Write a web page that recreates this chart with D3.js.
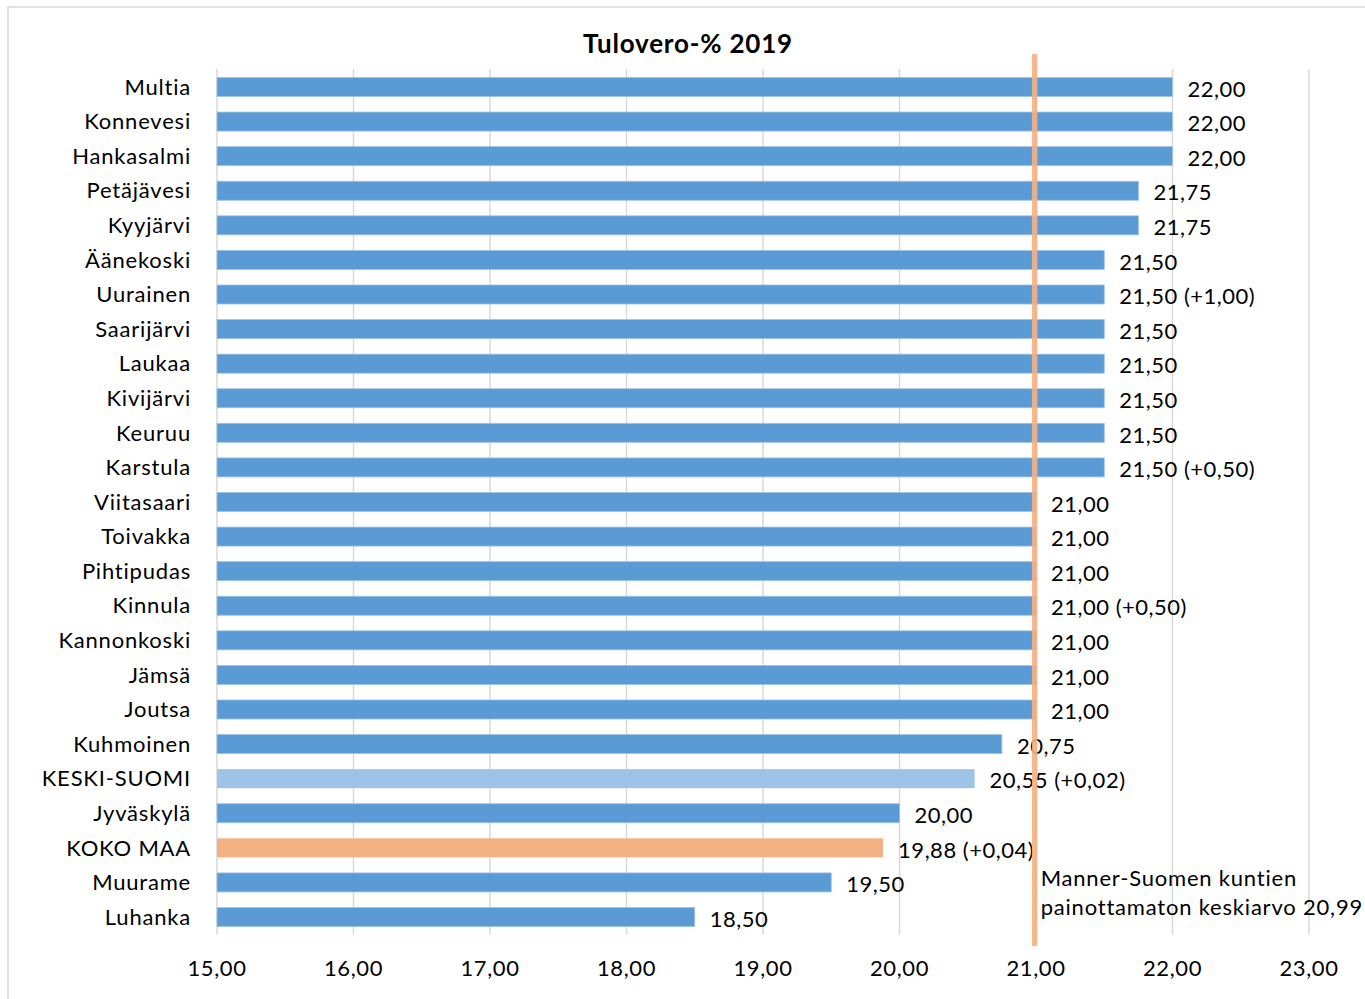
<!DOCTYPE html>
<html><head><meta charset="utf-8">
<script src="https://cdn.jsdelivr.net/npm/d3@7"></script>
<style>body{margin:0;background:#fff;}svg{display:block;}</style>
</head><body>
<svg id="c" width="1365" height="999"></svg>
<script>
const categories = ["Multia","Konnevesi","Hankasalmi","Petäjävesi","Kyyjärvi","Äänekoski","Uurainen","Saarijärvi","Laukaa","Kivijärvi","Keuruu","Karstula","Viitasaari","Toivakka","Pihtipudas","Kinnula","Kannonkoski","Jämsä","Joutsa","Kuhmoinen","KESKI-SUOMI","Jyväskylä","KOKO MAA","Muurame","Luhanka"];
const values = [22.00,22.00,22.00,21.75,21.75,21.50,21.50,21.50,21.50,21.50,21.50,21.50,21.00,21.00,21.00,21.00,21.00,21.00,21.00,20.75,20.55,20.00,19.88,19.50,18.50];
const changes = ["","","","","","","+1,00","","","","","+0,50","","","","+0,50","","","","","+0,02","","+0,04","",""];
const highlight = {"KESKI-SUOMI":"#9DC3E6","KOKO MAA":"#F4B183"};
const xTicks = [15,16,17,18,19,20,21,22,23];
const meanValue = 20.99;
const meanLabel = ["Manner-Suomen kuntien","painottamaton keskiarvo 20,99"];
const title = "Tulovero-% 2019";

const fmt = v => v.toFixed(2).replace(".", ",");
const FONT = "Lato, 'Open Sans', sans-serif";
const svg = d3.select("#c");
svg.append("rect").attr("x",8).attr("y",7).attr("width",1400).attr("height",1010)
  .attr("fill","#fff").attr("stroke","#d9d9d9").attr("stroke-width",1.5);

const x = d3.scaleLinear().domain([15,23]).range([217,1309]);
const y = d3.scaleBand().domain(categories).range([69.7,934.3]).paddingInner(0.45).paddingOuter(0.225);

// gridlines
svg.append("g").selectAll("line").data(xTicks).join("line")
  .attr("x1",d=>x(d)).attr("x2",d=>x(d)).attr("y1",69).attr("y2",934.5)
  .attr("stroke","#d9d9d9").attr("stroke-width",1.5);

// bars
svg.append("g").selectAll("rect").data(categories).join("rect")
  .attr("x",x(15)).attr("y",d=>y(d)).attr("height",y.bandwidth())
  .attr("width",(d,i)=>x(values[i])-x(15))
  .attr("fill",d=>highlight[d]||"#5B9BD5")
  .attr("stroke",d=>highlight[d]?"none":"#9DC3E6").attr("stroke-width",0.8);

const txt = sel => sel.attr("font-family",FONT).attr("font-size",22).attr("fill","#000");

// category labels
svg.append("g").selectAll("text").data(categories).join("text")
  .attr("x",191).attr("y",d=>y(d)+y.bandwidth()/2).attr("dy","0.35em")
  .attr("text-anchor","end").call(txt).attr("letter-spacing",0.8)
  .text(d=>d);

// value labels
svg.append("g").selectAll("text").data(categories).join("text")
  .attr("x",(d,i)=>x(values[i])+15).attr("y",d=>y(d)+y.bandwidth()/2+2).attr("dy","0.35em")
  .call(txt).attr("letter-spacing",0.5)
  .text((d,i)=>fmt(values[i]) + (changes[i] ? " ("+changes[i]+")" : ""));

// x axis labels
svg.append("g").selectAll("text").data(xTicks).join("text")
  .attr("x",d=>x(d)).attr("y",968).attr("dy","0.35em").attr("text-anchor","middle")
  .call(txt).attr("letter-spacing",0.6)
  .text(d=>fmt(d));

// mean line
svg.append("line").attr("x1",x(meanValue)).attr("x2",x(meanValue)).attr("y1",54).attr("y2",946)
  .attr("stroke","#F4B183").attr("stroke-width",5.5).attr("stroke-opacity",0.9);

svg.append("g").selectAll("text").data(meanLabel).join("text")
  .attr("x",x(meanValue)+6).attr("y",(d,i)=>878+i*29).attr("dy","0.35em")
  .call(txt).attr("letter-spacing",0.8)
  .text(d=>d);

// title
svg.append("text").attr("x",688).attr("y",44).attr("dy","0.35em").attr("text-anchor","middle")
  .attr("font-family",FONT).attr("font-weight","bold").attr("font-size",26).attr("letter-spacing",0.8).attr("fill","#000")
  .text(title);
</script>
</body></html>
